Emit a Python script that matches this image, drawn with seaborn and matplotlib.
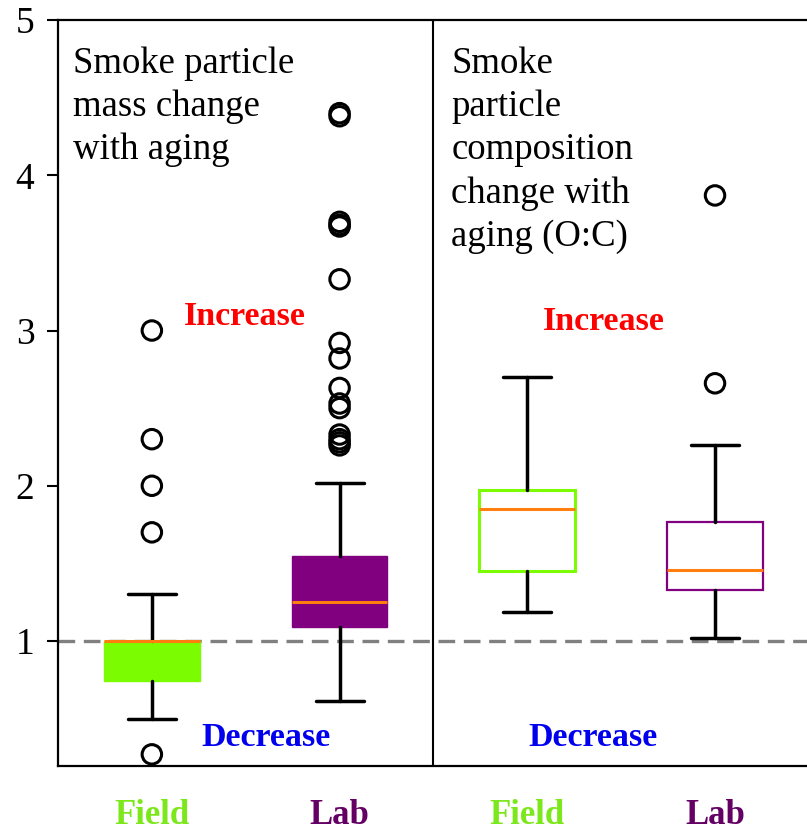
import matplotlib
matplotlib.use("Agg")
import matplotlib.pyplot as plt
import seaborn as sns
import pandas as pd

# ---- data ----
groups = ["Field", "Lab", "Field", "Lab"]
q1 = [0.742, 1.09, 1.45, 1.33]
median = [1.0, 1.25, 1.85, 1.46]
q3 = [1.0, 1.547, 1.97, 1.765]
whislo = [0.50, 0.614, 1.19, 1.02]
whishi = [1.30, 2.02, 2.70, 2.26]
fliers_field_mass = [3.0, 2.3, 2.0, 1.7, 0.27]
fliers_lab_mass = [4.40, 4.38, 3.70, 3.68, 3.67, 3.33, 2.92, 2.82, 2.63, 2.53,
                   2.50, 2.33, 2.30, 2.28, 2.26]
fliers_field_oc = []
fliers_lab_oc = [3.87, 2.66]
yticks = [1, 2, 3, 4, 5]

panel_titles = ["Smoke particle\nmass change\nwith aging",
                "Smoke\nparticle\ncomposition\nchange with\naging (O:C)"]

green = "#7CFC00"
purple = "#800080"
lab_text = "#640064"
field_text = "#7CE81C"
orange = "#FF7F0E"

sns.set_style("ticks")
plt.rcParams["font.family"] = ["Liberation Serif", "DejaVu Serif"]
plt.rcParams["text.color"] = "black"
plt.rcParams["xtick.color"] = "black"
plt.rcParams["ytick.color"] = "black"
plt.rcParams["axes.edgecolor"] = "black"

fig = plt.figure(figsize=(8.07, 8.36), dpi=100)
ax = fig.add_axes([58 / 807, 70 / 836, 1 - 58 / 807, (766 - 20) / 836])

positions = list(range(len(groups)))
fliers = [fliers_field_mass, fliers_lab_mass, fliers_field_oc, fliers_lab_oc]
stats = []
for i in positions:
    stats.append(dict(q1=q1[i], med=median[i], q3=q3[i], whislo=whislo[i],
                      whishi=whishi[i], fliers=[], label=groups[i]))

face = [green, purple, "white", "white"]
edge = [green, purple, green, purple]
elw = [1.0, 1.0, 2.2, 1.6]

ax.axhline(1, color="#808080", lw=2.4, ls=(0, (5, 2.6)), zorder=1)

for i in positions:
    ax.bxp([stats[i]], positions=[i], widths=0.51, patch_artist=True,
           showfliers=False, manage_ticks=False,
           boxprops=dict(facecolor=face[i], edgecolor=edge[i], linewidth=elw[i]),
           medianprops=dict(color=orange, linewidth=2.2),
           whiskerprops=dict(color="black", linewidth=2.5),
           capprops=dict(color="black", linewidth=2.5),
           zorder=2)

# outliers via seaborn
fl_x, fl_y = [], []
for i in positions:
    for v in fliers[i]:
        fl_x.append(i)
        fl_y.append(v)
df = pd.DataFrame({"x": fl_x, "y": fl_y})
sns.scatterplot(data=df, x="x", y="y", ax=ax, marker="o", s=14 ** 2,
                facecolors="none", edgecolor="black", linewidth=2.2,
                zorder=3, clip_on=True, legend=False)

ax.axvline(1.5, color="black", lw=1.5, zorder=4)

ax.set_xlim(-0.5, 3.49)
ax.set_ylim(0.195, 5)
ax.set_yticks(yticks)
ax.set_yticklabels([str(t) for t in yticks], fontsize=27)
ax.set_xticks(positions)
ax.set_xticklabels(groups, fontsize=25, fontweight="bold")
for lbl, c in zip(ax.get_xticklabels(), [field_text, lab_text, field_text, lab_text]):
    lbl.set_color(c)
ax.tick_params(axis="x", length=0, pad=24)
ax.tick_params(axis="y", length=8, width=1.5, pad=9, direction="out")
ax.set_xlabel("")
ax.set_ylabel("")
for s in ["left", "bottom", "top"]:
    ax.spines[s].set_linewidth(1.6)
    ax.spines[s].set_color("black")
ax.spines["right"].set_visible(False)

ax.text(-0.42, 4.83, panel_titles[0], fontsize=26.5, va="top", ha="left",
        linespacing=1.33)
ax.text(1.596, 4.83, panel_titles[1], fontsize=26.5, va="top", ha="left",
        linespacing=1.33)
ax.text(0.496, 3.09, "Increase", fontsize=24.5, fontweight="bold", color="red",
        ha="center", va="center")
ax.text(2.406, 3.06, "Increase", fontsize=24.5, fontweight="bold", color="red",
        ha="center", va="center")
ax.text(0.608, 0.38, "Decrease", fontsize=24.5, fontweight="bold", color="#0000EE",
        ha="center", va="center")
ax.text(2.35, 0.38, "Decrease", fontsize=24.5, fontweight="bold", color="#0000EE",
        ha="center", va="center")

fig.savefig("out.png", dpi=100)
